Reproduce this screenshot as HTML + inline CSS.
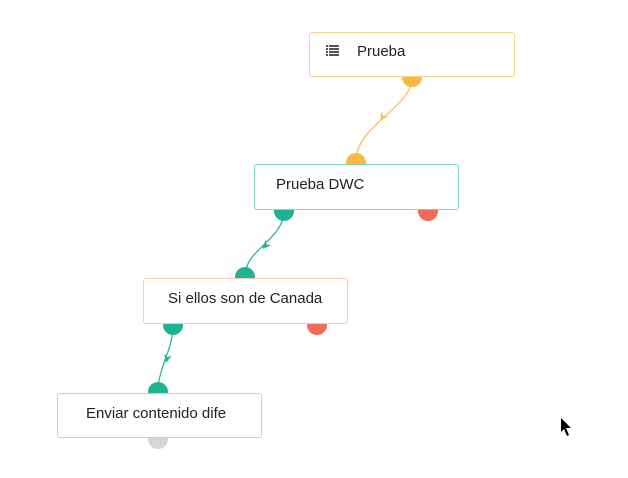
<!DOCTYPE html>
<html><head><meta charset="utf-8"><style>
body{margin:0;width:628px;height:478px;background:#fff;overflow:hidden;position:relative;font-family:"Liberation Sans",sans-serif;}
svg{position:absolute;left:0;top:0}
.b{position:absolute;background:#fff;border-radius:3px;font-size:14px;color:#222;box-sizing:border-box;}
</style></head><body>
<svg width="628" height="478">
<g fill="none" stroke-width="1.2">
<path d="M412,82 C405,110 360,125 356,158" stroke="#f5c04a"/>
<path d="M284,214 C280,240 250,248 245,272" stroke="#22b391"/>
<path d="M173,328 C172,350 160,365 158,388" stroke="#22b391"/>
</g>
<path d="M380,121 L388,116 L383,116 L381.6,111 Z" fill="#f5c04a"/>
<path d="M262,249 L271.4,245.2 L266.5,244.5 L265.8,239.6 Z" fill="#22b391"/>
<path d="M166,363 L171.9,355.2 L167.3,357.2 L164.1,353.2 Z" fill="#22b391"/>
<circle cx="412" cy="77" r="10" fill="#f9b93d"/>
<circle cx="356" cy="163" r="10" fill="#f9b93d"/>
<circle cx="284" cy="211" r="10" fill="#1fb391"/>
<circle cx="428" cy="211" r="10" fill="#f26b56"/>
<circle cx="245" cy="277" r="10" fill="#1fb391"/>
<circle cx="173" cy="325" r="10" fill="#1fb391"/>
<circle cx="317" cy="325" r="10" fill="#f26b56"/>
<circle cx="158" cy="392" r="10" fill="#1fb391"/>
<circle cx="158" cy="439" r="10" fill="#d6d6d6"/>
<path d="M561,418 L561,432 L564,429 L567,436 L569,435 L566,428 L571,428 Z" fill="#000"/>
</svg>
<div class="b" style="left:309px;top:32px;width:206px;height:45px;border:1.5px solid #f6d48a;">
<svg width="14" height="12" style="left:16px;top:12px"><g fill="#555"><rect x="0" y="0" width="2" height="2"/><rect x="3" y="0" width="10" height="2"/><rect x="0" y="3" width="2" height="2"/><rect x="3" y="3" width="10" height="2"/><rect x="0" y="6" width="2" height="2"/><rect x="3" y="6" width="10" height="2"/><rect x="0" y="9" width="2" height="2"/><rect x="3" y="9" width="10" height="2"/></g></svg>
<span style="position:absolute;left:47px;top:10px;font-size:15px">Prueba</span></div>
<div class="b" style="left:254px;top:164px;width:205px;height:46px;border:1.5px solid #7fd4c2;"><span style="position:absolute;left:21px;top:11px;font-size:15px">Prueba DWC</span></div>
<div class="b" style="left:143px;top:278px;width:205px;height:46px;border:1.5px solid #f6c9bb;"><span style="position:absolute;left:24px;top:11px;font-size:15px">Si ellos son de Canada</span></div>
<div class="b" style="left:57px;top:393px;width:205px;height:45px;border:1.5px solid #c4caf0;"><span style="position:absolute;left:28px;top:11px;font-size:15px">Enviar contenido dife</span></div>
</body></html>
